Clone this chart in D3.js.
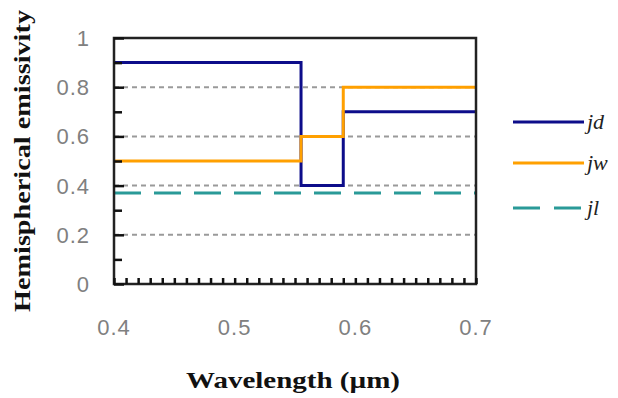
<!DOCTYPE html>
<html>
<head>
<meta charset="utf-8">
<script src="https://cdn.jsdelivr.net/npm/d3@7"></script>
<style>
  html, body { margin: 0; padding: 0; background: #fff; }
  svg { display: block; }
</style>
</head>
<body>
<svg id="chart" width="618" height="398"></svg>
<script>
// step edges along wavelength (um)
const edges = [0.4, 0.555, 0.59, 0.7];
const jdValues = [0.9, 0.4, 0.7];
const jwValues = [0.5, 0.6, 0.8];
const jlValues = [0.37, 0.37, 0.37];
const seriesNames = ['jd', 'jw', 'jl'];
const seriesColours = ['#0d0d8a', '#ffa000', '#2a9a98'];
const yTicks = [0, 0.2, 0.4, 0.6, 0.8, 1];
const xTicks = [0.4, 0.5, 0.6, 0.7];

const svg = d3.select('#chart');
const margin = { left: 114, right: 142, top: 38, bottom: 114 };
const width = 618 - margin.left - margin.right;
const height = 398 - margin.top - margin.bottom;

const x = d3.scaleLinear().domain([0.4, 0.7]).range([0, width]);
const y = d3.scaleLinear().domain([0, 1]).range([height, 0]);

const g = svg.append('g').attr('transform', `translate(${margin.left},${margin.top})`);

// grid lines
g.selectAll('.grid').data([0.2, 0.4, 0.6, 0.8]).enter()
  .append('line')
  .attr('x1', 0).attr('x2', width)
  .attr('y1', d => y(d)).attr('y2', d => y(d))
  .attr('stroke', '#9a9a9a').attr('stroke-width', 2)
  .attr('stroke-dasharray', '5,4');

// series as step lines
const stepData = vals => {
  const pts = vals.map((v, i) => ({ x: edges[i], v }));
  pts.push({ x: edges[edges.length - 1], v: vals[vals.length - 1] });
  return pts;
};
const line = d3.line().x(d => x(d.x)).y(d => y(d.v)).curve(d3.curveStepAfter);

const allSeries = [jdValues, jwValues, jlValues];
allSeries.forEach((vals, i) => {
  g.append('path')
    .datum(stepData(vals))
    .attr('fill', 'none')
    .attr('stroke', seriesColours[i])
    .attr('stroke-width', 3)
    .attr('stroke-dasharray', i === 2 ? '27,13' : null)
    .attr('d', line);
});

// frame
g.append('rect')
  .attr('width', width).attr('height', height)
  .attr('fill', 'none').attr('stroke', '#222').attr('stroke-width', 2.5);

// y axis: ticks inward every 0.1
const yAxis = d3.axisLeft(y).tickValues(d3.range(0, 1.01, 0.1)).tickSize(-8).tickFormat('');
g.append('g').call(yAxis)
  .call(a => a.select('.domain').remove())
  .selectAll('line').attr('stroke', '#111').attr('stroke-width', 2.5)
  .attr('x2', d => Math.round(d * 10) % 2 === 0 ? 10 : 8);

// y tick labels
g.selectAll('.ylab').data(yTicks).enter()
  .append('text')
  .attr('x', -24).attr('y', d => y(d)).attr('dy', '0.36em')
  .attr('text-anchor', 'end')
  .attr('font-family', 'Liberation Sans, Arial, sans-serif')
  .attr('font-size', 22).attr('letter-spacing', 1).attr('fill', '#808080')
  .text(d => d3.format('')(d));

// x axis: minor ticks inward every 0.01
const xAxis = d3.axisBottom(x).tickValues(d3.range(0.4, 0.7001, 0.01)).tickSize(-6).tickFormat('');
g.append('g').attr('transform', `translate(0,${height})`).call(xAxis)
  .call(a => a.select('.domain').remove())
  .selectAll('line').attr('stroke', '#111').attr('stroke-width', 2.5);

g.selectAll('.xlab').data(xTicks).enter()
  .append('text')
  .attr('x', d => x(d)).attr('y', height + 51)
  .attr('text-anchor', 'middle')
  .attr('font-family', 'Liberation Sans, Arial, sans-serif')
  .attr('font-size', 22).attr('letter-spacing', 1).attr('fill', '#808080')
  .text(d => d3.format('.1f')(d));

// axis titles
svg.append('text')
  .attr('x', 186).attr('y', 388)
  .attr('textLength', 214).attr('lengthAdjust', 'spacingAndGlyphs')
  .attr('font-family', 'Liberation Serif, Times New Roman, serif')
  .attr('font-weight', 'bold').attr('font-size', 23).attr('fill', '#111')
  .text('Wavelength (\u00b5m)');

svg.append('text')
  .attr('transform', 'translate(30,312) rotate(-90)')
  .attr('textLength', 302).attr('lengthAdjust', 'spacingAndGlyphs')
  .attr('font-family', 'Liberation Serif, Times New Roman, serif')
  .attr('font-weight', 'bold').attr('font-size', 23).attr('fill', '#111')
  .text('Hemispherical emissivity');

// legend
const legendY = [122, 163, 208];
const legend = svg.append('g');
seriesNames.forEach((name, i) => {
  legend.append('line')
    .attr('x1', 513).attr('x2', 584)
    .attr('y1', legendY[i]).attr('y2', legendY[i])
    .attr('stroke', seriesColours[i]).attr('stroke-width', 3)
    .attr('stroke-dasharray', i === 2 ? '27,14' : null);
  legend.append('text')
    .attr('x', 587).attr('y', legendY[i] + 7)
    .attr('font-family', 'Liberation Serif, Times New Roman, serif')
    .attr('font-style', 'italic').attr('font-size', 22).attr('fill', '#222')
    .text(name);
});
</script>
</body>
</html>
